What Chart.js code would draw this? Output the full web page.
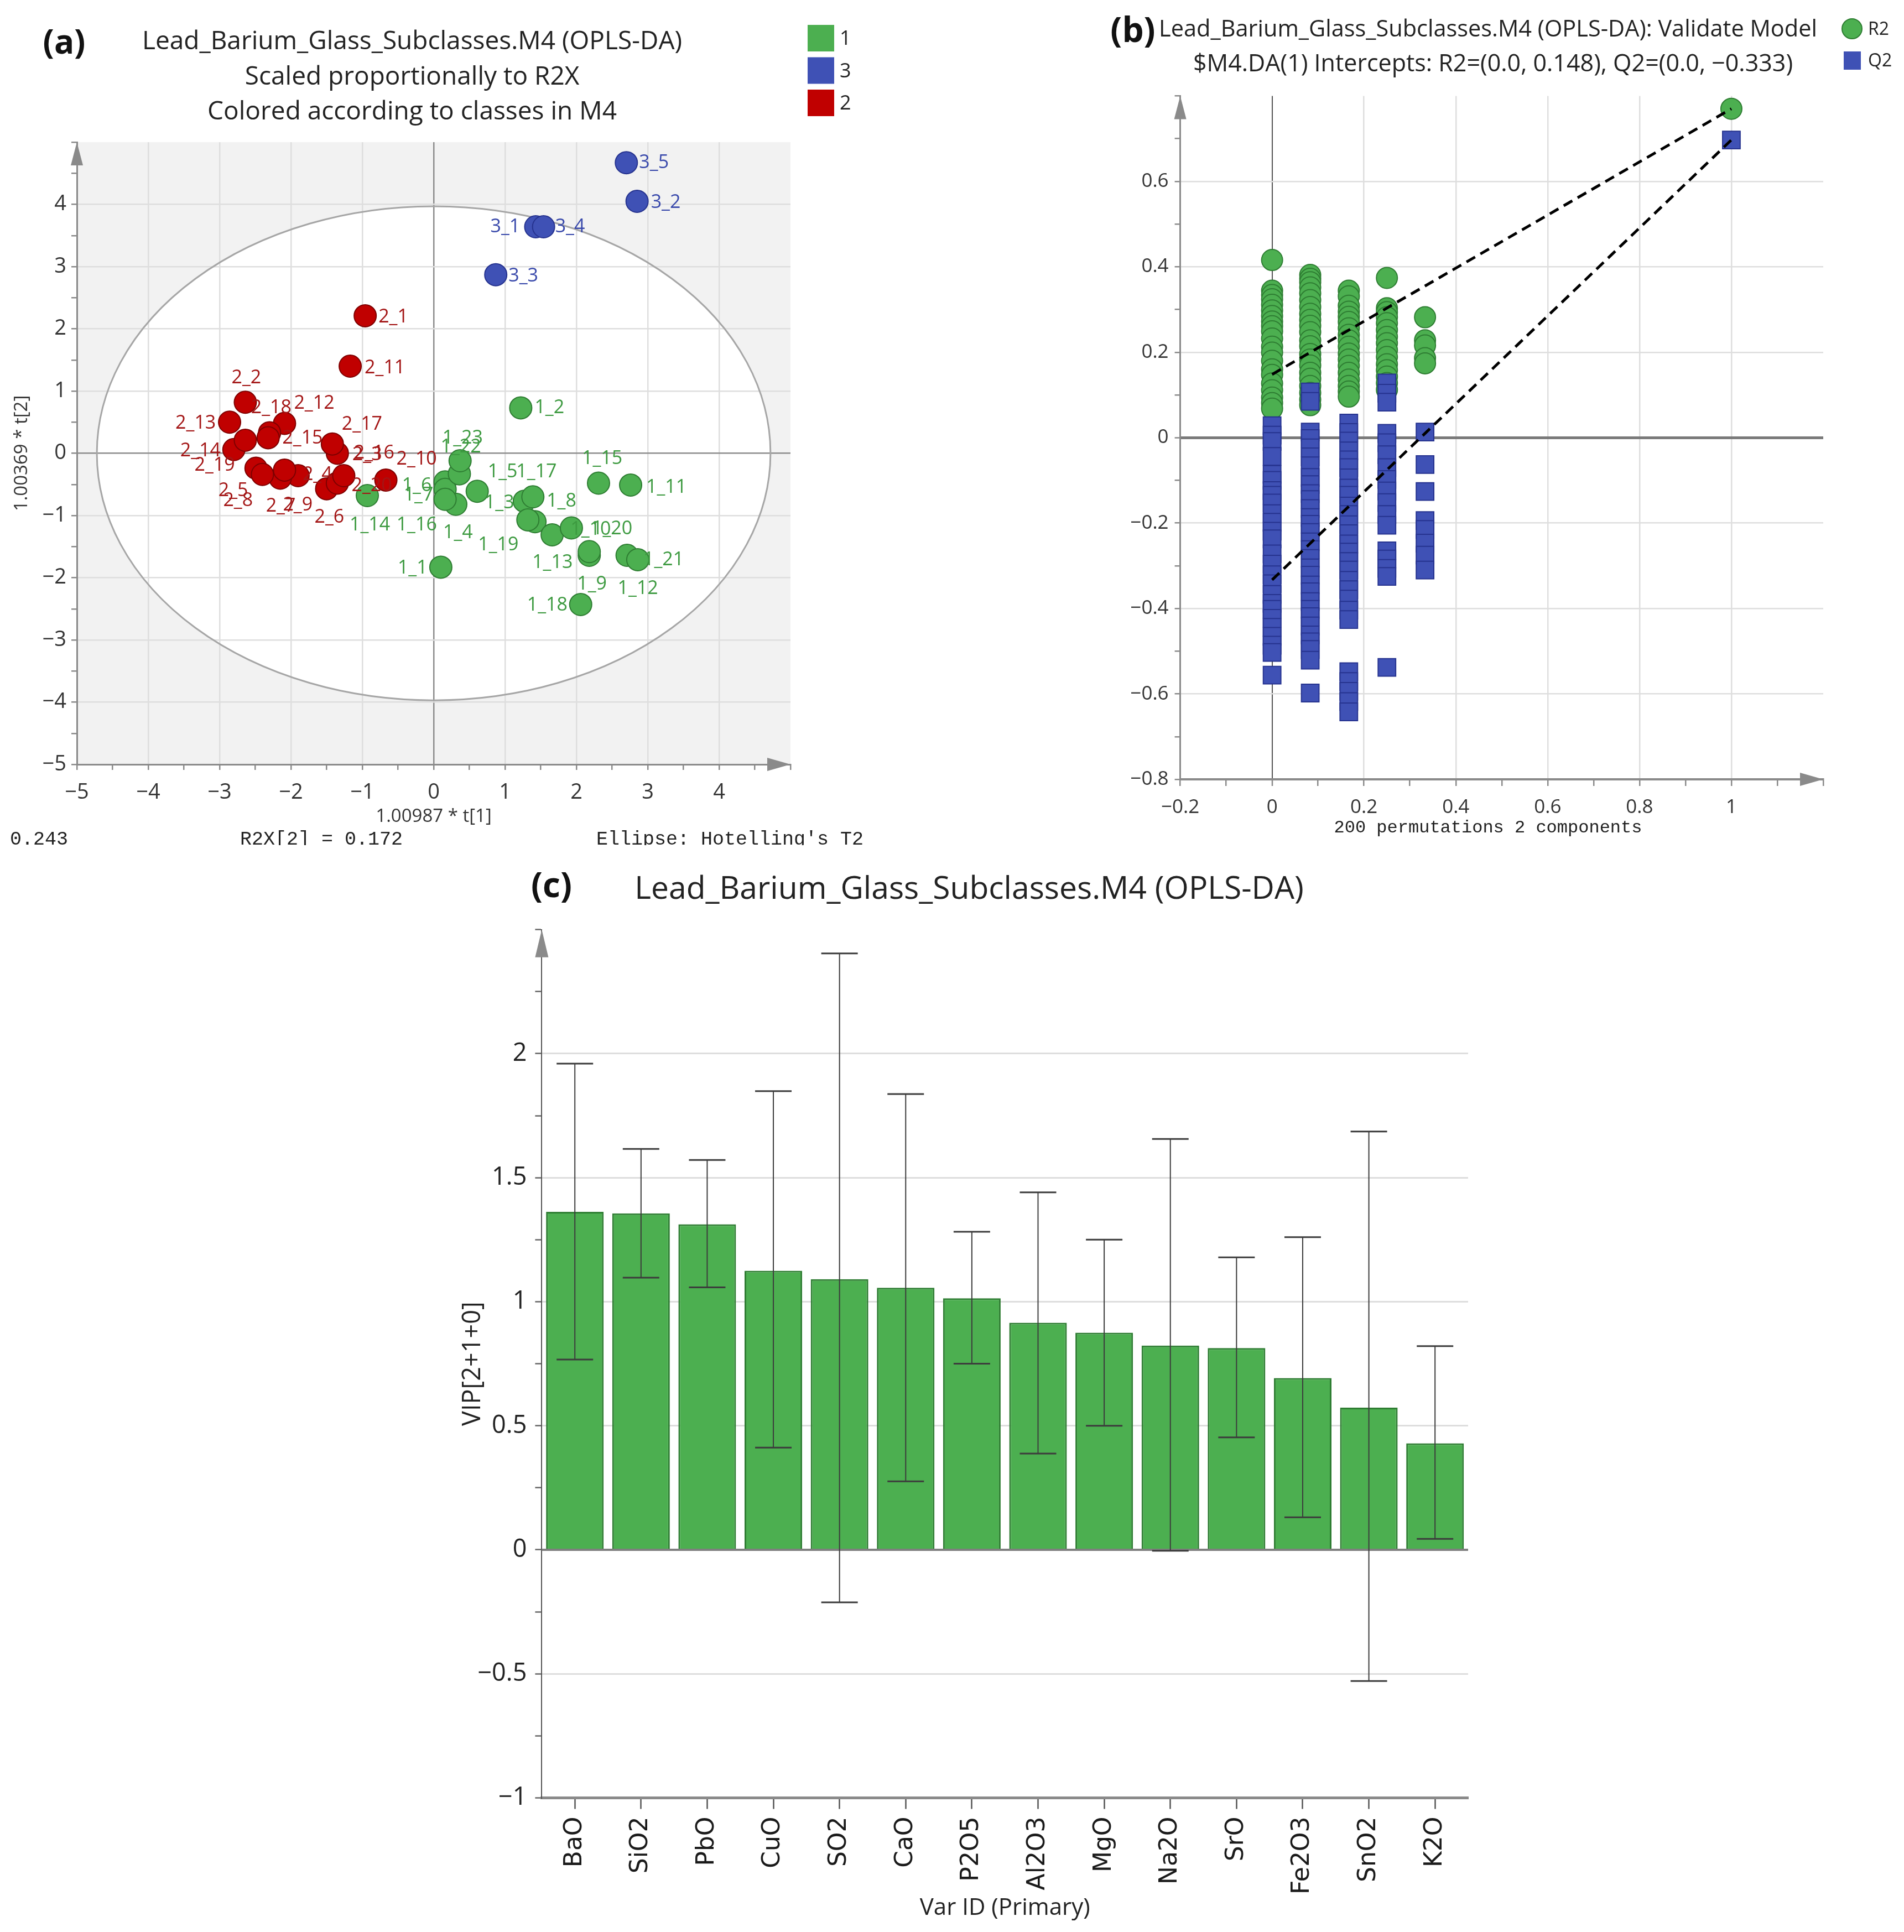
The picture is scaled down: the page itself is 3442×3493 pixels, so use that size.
<!DOCTYPE html>
<html>
<head>
<meta charset="utf-8">
<script src="https://cdn.jsdelivr.net/npm/chart.js@4.4.1/dist/chart.umd.min.js"></script>
<style>
  html, body { margin: 0; padding: 0; background: #fff; }
  #page { position: relative; width: 3442px; height: 3493px; overflow: hidden; background: #fff; }
  canvas { position: absolute; }
</style>
</head>
<body>
<div id="page">
  <canvas id="scoreChart" width="1580" height="1528" style="left:0;top:0"></canvas>
  <canvas id="permChart" width="1452" height="1530" style="left:1990px;top:0"></canvas>
  <canvas id="vipChart" width="1900" height="1953" style="left:780px;top:1540px"></canvas>
</div>
<script>
// ============================
// OPLS-DA figure: score plot, permutation test, VIP bars
// ============================

// ---------- DATA: (a) score plot ----------
const class1Labels = ["1_1", "1_2", "1_3", "1_4", "1_5", "1_6", "1_7", "1_8", "1_9", "1_10", "1_11", "1_12",
  "1_13", "1_14", "1_15", "1_16", "1_17", "1_18", "1_19", "1_20", "1_21", "1_22", "1_23"];
const class1T1 = [0.10, 1.22, 1.27, 0.31, 0.61, 0.16, 0.16, 1.42, 2.18, 2.18, 2.76, 2.71,
  1.66, -0.93, 2.31, 0.16, 1.39, 2.06, 1.32, 1.93, 2.86, 0.36, 0.37];
const class1T2 = [-1.83, 0.73, -0.77, -0.82, -0.61, -0.46, -0.58, -1.10, -1.64, -1.58, -0.51, -1.64,
  -1.31, -0.68, -0.48, -0.74, -0.70, -2.43, -1.07, -1.20, -1.71, -0.33, -0.12];

const class2Labels = ["2_1", "2_2", "2_3", "2_4", "2_5", "2_6", "2_7", "2_8", "2_9", "2_10",
  "2_11", "2_12", "2_13", "2_14", "2_15", "2_16", "2_17", "2_18", "2_19", "2_20"];
const class2T1 = [-0.96, -2.64, -1.35, -1.90, -2.49, -1.50, -2.15, -2.40, -2.09, -0.67,
  -1.17, -2.09, -2.86, -2.80, -2.30, -1.35, -1.42, -2.32, -2.64, -1.26];
const class2T2 = [2.21, 0.82, 0.00, -0.36, -0.24, -0.57, -0.40, -0.34, -0.27, -0.43,
  1.40, 0.48, 0.50, 0.06, 0.33, -0.48, 0.15, 0.25, 0.21, -0.36];

const class3Labels = ["3_1", "3_2", "3_3", "3_4", "3_5"];
const class3T1 = [1.43, 2.85, 0.87, 1.54, 2.70];
const class3T2 = [3.64, 4.05, 2.87, 3.64, 4.67];

const ellipseT1 = 4.72;   // Hotelling's T2 ellipse half-axes
const ellipseT2 = 3.97;

// ---------- DATA: (b) permutation test ----------
const permCorr = [0, 0.083, 0.167, 0.25, 0.333];
const r2Perm0 = [0.416, 0.344, 0.334, 0.324, 0.311, 0.298, 0.285, 0.272, 0.261, 0.249, 0.232, 0.213, 0.199, 0.180, 0.160, 0.147, 0.127, 0.111, 0.094, 0.081, 0.068];
const r2Perm1 = [0.381, 0.372, 0.364, 0.352, 0.338, 0.322, 0.306, 0.290, 0.276, 0.262, 0.247, 0.228, 0.214, 0.196, 0.183, 0.169, 0.152, 0.138, 0.121, 0.105, 0.089, 0.076];
const r2Perm2 = [0.344, 0.331, 0.309, 0.295, 0.283, 0.271, 0.256, 0.241, 0.228, 0.213, 0.197, 0.183, 0.168, 0.152, 0.136, 0.121, 0.108, 0.096];
const r2Perm3 = [0.374, 0.303, 0.294, 0.282, 0.268, 0.252, 0.236, 0.221, 0.205, 0.189, 0.172, 0.158, 0.143, 0.128, 0.112];
const r2Perm4 = [0.282, 0.228, 0.216, 0.186, 0.174];
const q2Perm0 = [0.028, 0.006, -0.009, -0.044, -0.086, -0.100, -0.124, -0.135, -0.153, -0.178, -0.198, -0.219, -0.237, -0.272, -0.296, -0.321, -0.342, -0.367, -0.388, -0.402, -0.423, -0.444, -0.465, -0.486, -0.503, -0.556];
const q2Perm1 = [0.107, 0.085, 0.013, -0.002, -0.024, -0.045, -0.066, -0.093, -0.110, -0.131, -0.145, -0.166, -0.187, -0.203, -0.222, -0.244, -0.262, -0.283, -0.305, -0.322, -0.345, -0.361, -0.384, -0.402, -0.419, -0.441, -0.462, -0.478, -0.496, -0.521, -0.598];
const q2Perm2 = [0.034, 0.012, -0.008, -0.031, -0.052, -0.070, -0.094, -0.118, -0.135, -0.160, -0.180, -0.204, -0.225, -0.249, -0.268, -0.290, -0.310, -0.334, -0.356, -0.378, -0.404, -0.426, -0.548, -0.571, -0.594, -0.618, -0.642];
const q2Perm3 = [0.128, 0.104, 0.083, 0.010, -0.012, -0.040, -0.070, -0.098, -0.125, -0.152, -0.180, -0.205, -0.265, -0.284, -0.306, -0.325, -0.538];
const q2Perm4 = [0.013, -0.063, -0.126, -0.194, -0.215, -0.247, -0.275, -0.310];
const r2Model = 0.770;
const q2Model = 0.697;
const r2Intercept = 0.148;
const q2Intercept = -0.333;

// ---------- DATA: (c) VIP ----------
const vipVars = ["BaO", "SiO2", "PbO", "CuO", "SO2", "CaO", "P2O5", "Al2O3", "MgO", "Na2O", "SrO", "Fe2O3", "SnO2", "K2O"];
const vipValues = [1.362, 1.356, 1.312, 1.125, 1.091, 1.056, 1.014, 0.915, 0.875, 0.823, 0.813, 0.692, 0.573, 0.429];
const vipLow = [0.767, 1.097, 1.058, 0.412, -0.212, 0.276, 0.750, 0.388, 0.500, -0.004, 0.453, 0.131, -0.529, 0.044];
const vipHigh = [1.960, 1.616, 1.571, 1.849, 2.404, 1.837, 1.282, 1.441, 1.250, 1.656, 1.179, 1.260, 1.686, 0.821];

// ---------- STYLE ----------
const SANS = "'Open Sans', 'Noto Sans', sans-serif";
const MONO = "'Liberation Mono', 'DejaVu Sans Mono', monospace";
const GREEN = "#4caf50", GREEN_EDGE = "#2e7d32", GREEN_TEXT = "#3d9a40";
const BLUE = "#3f51b5", BLUE_EDGE = "#26338f", BLUE_TEXT = "#3949ab";
const RED = "#c00000", RED_EDGE = "#7d0000", RED_TEXT = "#a31515";
const AXIS = "#8a8a8a";
const GRID = "#dedede";
const NONE = "rgba(0,0,0,0)";

// label placement in px from point centre: [dx to text start, dy]
const labelOffsets = {
  "1_1": [-78, 2], "1_2": [25, 0], "1_3": [-72, 3], "1_4": [-23, 52], "1_5": [19, -35],
  "1_6": [-78, 7], "1_7": [-75, 11], "1_8": [21, -37], "1_9": [-22, 52], "1_10": [-34, -40],
  "1_11": [28, 4], "1_12": [-17, 60], "1_13": [-36, 50], "1_14": [-32, 53], "1_15": [-30, -44],
  "1_16": [-88, 47], "1_17": [-30, -45], "1_18": [-97, 1], "1_19": [-90, 45], "1_20": [37, 2],
  "1_21": [10, 0], "1_22": [-34, -48], "1_23": [-32, -41],
  "2_1": [24, 2], "2_2": [-25, -44], "2_3": [27, 3], "2_4": [8, -2], "2_5": [-68, 41],
  "2_6": [-22, 52], "2_7": [-26, 51], "2_8": [-71, 48], "2_9": [-3, 63], "2_10": [19, -38],
  "2_11": [26, 3], "2_12": [17, -36], "2_13": [-98, 2], "2_14": [-97, 3], "2_15": [23, 10],
  "2_16": [30, -54], "2_17": [17, -35], "2_18": [-31, -54], "2_19": [-92, 45], "2_20": [14, 18],
  "3_1": [-82, 0], "3_2": [25, 2], "3_3": [23, 3], "3_4": [21, 0], "3_5": [23, 0],
};

// ---------- HELPERS ----------
const fmt = (v) => {
  const r = Math.round(v * 100) / 100;
  return r < 0 ? "\u2212" + Math.abs(r) : String(r);
};
const near = (v, step) => Math.abs(v / step - Math.round(v / step)) < 1e-6;
const points = (xs, ys) => xs.map((x, i) => ({ x, y: ys[i] }));

function text(ctx, str, x, y, font, color, align = "center", baseline = "middle") {
  ctx.save();
  ctx.font = font;
  ctx.fillStyle = color;
  ctx.textAlign = align;
  ctx.textBaseline = baseline;
  ctx.fillText(str, x, y);
  ctx.restore();
}
function arrowUp(ctx, x, tip, len, half) {
  ctx.save();
  ctx.fillStyle = AXIS;
  ctx.beginPath();
  ctx.moveTo(x, tip);
  ctx.lineTo(x - half, tip + len);
  ctx.lineTo(x + half, tip + len);
  ctx.closePath();
  ctx.fill();
  ctx.restore();
}
function arrowRight(ctx, tip, y, len, half) {
  ctx.save();
  ctx.fillStyle = AXIS;
  ctx.beginPath();
  ctx.moveTo(tip, y);
  ctx.lineTo(tip - len, y - half);
  ctx.lineTo(tip - len, y + half);
  ctx.closePath();
  ctx.fill();
  ctx.restore();
}

const base = {
  responsive: false,
  animation: false,
  devicePixelRatio: 1,
  events: [],
};
const noPlugins = { legend: { display: false }, title: { display: false }, tooltip: { enabled: false } };

// ---------- (a) SCORE PLOT ----------
const scoreDatasets = [
  { label: "1", data: points(class1T1, class1T2), names: class1Labels, textColor: GREEN_TEXT,
    backgroundColor: GREEN, borderColor: GREEN_EDGE },
  { label: "3", data: points(class3T1, class3T2), names: class3Labels, textColor: BLUE_TEXT,
    backgroundColor: BLUE, borderColor: BLUE_EDGE },
  { label: "2", data: points(class2T1, class2T2), names: class2Labels, textColor: RED_TEXT,
    backgroundColor: RED, borderColor: RED_EDGE },
].map((d) => Object.assign(d, { pointRadius: 20, borderWidth: 2 }));

const scoreGrid = {
  color: (c) => {
    const v = c.tick.value;
    if (Math.abs(v) > 4.99 || !near(v, 1)) return NONE;
    return Math.abs(v) < 1e-9 ? "#8c8c8c" : GRID;
  },
  lineWidth: 2.5,
  tickColor: AXIS,
  tickLength: 10,
  tickWidth: 2.5,
};
const intTick = (v) => (near(v, 1) && v < 4.9 ? fmt(v) : "");

new Chart(document.getElementById("scoreChart"), {
  type: "scatter",
  data: { datasets: scoreDatasets },
  options: {
    ...base,
    layout: { padding: { top: 257, right: 151, left: 0, bottom: 0 } },
    plugins: noPlugins,
    scales: {
      x: {
        type: "linear", min: -5, max: 5,
        afterFit: (s) => { s.height = 146; },
        ticks: { stepSize: 0.5, autoSkip: false, maxRotation: 0, padding: 18, color: "#333",
          font: { family: SANS, size: 38 }, callback: intTick },
        grid: scoreGrid,
        border: { display: true, color: AXIS, width: 3 },
        title: { display: true, text: "1.00987 * t[1]", color: "#333",
          font: { family: SANS, size: 33 }, padding: { top: 0, bottom: 32 } },
      },
      y: {
        type: "linear", min: -5, max: 5,
        afterFit: (s) => { s.width = 139; },
        ticks: { stepSize: 0.5, autoSkip: false, padding: 9, color: "#333",
          font: { family: SANS, size: 38 }, callback: intTick },
        grid: scoreGrid,
        border: { display: true, color: AXIS, width: 3 },
        title: { display: true, text: "1.00369 * t[2]", color: "#333",
          font: { family: SANS, size: 33 }, padding: { top: 20, bottom: 0 } },
      },
    },
  },
  plugins: [{
    id: "scorePanel",
    beforeDraw(chart) {
      const { ctx, chartArea: a, scales: { x, y } } = chart;
      ctx.save();
      ctx.fillStyle = "#f2f2f2";
      ctx.fillRect(a.left, a.top, a.right - a.left, a.bottom - a.top);
      const cx = x.getPixelForValue(0), cy = y.getPixelForValue(0);
      ctx.beginPath();
      ctx.ellipse(cx, cy, x.getPixelForValue(ellipseT1) - cx, cy - y.getPixelForValue(ellipseT2), 0, 0, Math.PI * 2);
      ctx.fillStyle = "#fff";
      ctx.fill();
      ctx.restore();
    },
    beforeDatasetsDraw(chart) {
      const { ctx, scales: { x, y } } = chart;
      const cx = x.getPixelForValue(0), cy = y.getPixelForValue(0);
      ctx.save();
      ctx.beginPath();
      ctx.ellipse(cx, cy, x.getPixelForValue(ellipseT1) - cx, cy - y.getPixelForValue(ellipseT2), 0, 0, Math.PI * 2);
      ctx.strokeStyle = "#a6a6a6";
      ctx.lineWidth = 3;
      ctx.stroke();
      ctx.restore();
    },
    afterDatasetsDraw(chart) {
      const { ctx } = chart;
      chart.data.datasets.forEach((ds, i) => {
        chart.getDatasetMeta(i).data.forEach((pt, j) => {
          const name = ds.names[j];
          const [dx, dy] = labelOffsets[name] || [24, 2];
          text(ctx, name, pt.x + dx, pt.y + dy, `34px ${SANS}`, ds.textColor, "left");
        });
      });
    },
    afterDraw(chart) {
      const { ctx, chartArea: a } = chart;
      arrowUp(ctx, a.left, a.top, 42, 11);
      arrowRight(ctx, a.right, a.bottom, 42, 12);
      text(ctx, "(a)", 116, 80, `bold 60px ${SANS}`, "#111");
      text(ctx, "Lead_Barium_Glass_Subclasses.M4 (OPLS-DA)", 745, 76, `46px ${SANS}`, "#222");
      text(ctx, "Scaled proportionally to R2X", 745, 140, `46px ${SANS}`, "#222");
      text(ctx, "Colored according to classes in M4", 745, 203, `46px ${SANS}`, "#222");
      chart.data.datasets.forEach((ds, i) => {
        const cy = 69 + i * 58.5;
        ctx.fillStyle = ds.backgroundColor;
        ctx.fillRect(1460, cy - 24, 48, 48);
        text(ctx, ds.label, 1518, cy + 2, `36px ${SANS}`, "#222", "left");
      });
      const mono = `35px ${MONO}`;
      text(ctx, "0.243", 18, 1527, mono, "#222", "left", "alphabetic");
      text(ctx, "R2X[2] = 0.172", 434, 1527, mono, "#222", "left", "alphabetic");
      text(ctx, "Ellipse: Hotelling's T2", 1078, 1527, mono, "#222", "left", "alphabetic");
    },
  }],
});

// ---------- (b) PERMUTATION PLOT ----------
const r2Perm = [r2Perm0, r2Perm1, r2Perm2, r2Perm3, r2Perm4];
const q2Perm = [q2Perm0, q2Perm1, q2Perm2, q2Perm3, q2Perm4];
const flatten = (cols) => cols.flatMap((col, i) => col.map((v) => ({ x: permCorr[i], y: v })));

const circleStyle = { pointStyle: "circle", pointRadius: 19, backgroundColor: GREEN, borderColor: GREEN_EDGE, borderWidth: 2 };
const squareStyle = { pointStyle: "rect", pointRadius: 22.5, backgroundColor: BLUE, borderColor: BLUE_EDGE, borderWidth: 2 };
const dashStyle = { showLine: true, pointRadius: 0, borderColor: "#000", borderWidth: 5, borderDash: [18, 11] };

const permTickX = (v) => (near(v, 0.2) && v < 1.1 ? fmt(v) : "");
const permTickY = (v) => (near(v, 0.2) && v < 0.7 ? fmt(v) : "");

new Chart(document.getElementById("permChart"), {
  type: "scatter",
  data: {
    datasets: [
      { label: "R2 line", data: [{ x: 0, y: r2Intercept }, { x: 1, y: r2Model }], order: 0, ...dashStyle },
      { label: "Q2 line", data: [{ x: 0, y: q2Intercept }, { x: 1, y: q2Model }], order: 0, ...dashStyle },
      { label: "Q2 model", data: [{ x: 1, y: q2Model }], order: 1, ...squareStyle },
      { label: "R2 model", data: [{ x: 1, y: r2Model }], order: 1, ...circleStyle },
      { label: "Q2", data: flatten(q2Perm), order: 2, ...squareStyle },
      { label: "R2", data: flatten(r2Perm), order: 3, ...circleStyle },
    ],
  },
  options: {
    ...base,
    layout: { padding: { top: 173.5, right: 146, left: 0, bottom: 0 } },
    plugins: noPlugins,
    scales: {
      x: {
        type: "linear", min: -0.2, max: 1.2,
        afterFit: (s) => { s.height = 121; },
        ticks: { stepSize: 0.1, autoSkip: false, maxRotation: 0, padding: 18, color: "#333",
          font: { family: SANS, size: 35 }, callback: permTickX },
        grid: {
          color: (c) => {
            const v = c.tick.value;
            if (Math.abs(v) < 1e-9) return "#555";
            if (v < -0.19 || v > 1.19 || !near(v, 0.2)) return NONE;
            return GRID;
          },
          lineWidth: (c) => (Math.abs(c.tick.value) < 1e-9 ? 2 : 2.5),
          tickColor: AXIS, tickLength: 12, tickWidth: 2.5,
        },
        border: { display: true, color: AXIS, width: 4 },
      },
      y: {
        type: "linear", min: -0.8, max: 0.8,
        afterFit: (s) => { s.width = 143.6; },
        ticks: { stepSize: 0.1, autoSkip: false, padding: 11, color: "#333",
          font: { family: SANS, size: 35 }, callback: permTickY },
        grid: {
          color: (c) => {
            const v = c.tick.value;
            if (Math.abs(v) < 1e-9) return "#7a7a7a";
            if (Math.abs(v) > 0.79 || !near(v, 0.2)) return NONE;
            return GRID;
          },
          lineWidth: (c) => (Math.abs(c.tick.value) < 1e-9 ? 5 : 2.5),
          tickColor: AXIS, tickLength: 10, tickWidth: 2.5,
        },
        border: { display: true, color: AXIS, width: 3 },
      },
    },
  },
  plugins: [{
    id: "permPanel",
    afterDraw(chart) {
      const { ctx, chartArea: a } = chart;
      arrowUp(ctx, a.left, a.top, 42, 11);
      arrowRight(ctx, a.right, a.bottom, 42, 12);
      text(ctx, "200 permutations 2 components", 700, 1497, `32px ${MONO}`, "#222");
      text(ctx, "(b)", 58, 58, `bold 62px ${SANS}`, "#111");
      text(ctx, "Lead_Barium_Glass_Subclasses.M4 (OPLS-DA): Validate Model", 700, 54, `41.5px ${SANS}`, "#222");
      text(ctx, "$M4.DA(1) Intercepts: R2=(0.0, 0.148), Q2=(0.0, \u22120.333)", 709, 117, `43px ${SANS}`, "#222");
      // legend
      ctx.save();
      ctx.beginPath();
      ctx.arc(1358, 52, 18, 0, Math.PI * 2);
      ctx.fillStyle = GREEN; ctx.fill();
      ctx.lineWidth = 2; ctx.strokeStyle = GREEN_EDGE; ctx.stroke();
      ctx.fillStyle = BLUE;
      ctx.fillRect(1343, 93, 31, 33);
      ctx.restore();
      text(ctx, "R2", 1387, 54, `32px ${SANS}`, "#222", "left");
      text(ctx, "Q2", 1387, 111, `32px ${SANS}`, "#222", "left");
    },
  }],
});

// ---------- (c) VIP BAR CHART ----------
new Chart(document.getElementById("vipChart"), {
  type: "bar",
  data: {
    labels: vipVars,
    datasets: [{
      label: "VIP[2+1+0]",
      data: vipValues,
      backgroundColor: GREEN,
      borderColor: GREEN_EDGE,
      borderWidth: 3,
      barPercentage: 0.87,
      categoryPercentage: 1.0,
    }],
  },
  options: {
    ...base,
    layout: { padding: { top: 140.7, right: 26, left: 0, bottom: 0 } },
    plugins: noPlugins,
    scales: {
      x: {
        type: "category", offset: true,
        afterFit: (s) => { s.height = 242.5; },
        ticks: { autoSkip: false, minRotation: 90, maxRotation: 90, padding: 14, color: "#1a1a1a",
          font: { family: "'DejaVu Sans', sans-serif", size: 44 } },
        grid: { offset: false, drawOnChartArea: false, tickLength: 20, tickColor: "#555", tickWidth: 2.5 },
        border: { display: true, color: AXIS, width: 5 },
        title: { display: true, text: "Var ID (Primary)", color: "#222",
          font: { family: SANS, size: 42 }, padding: { top: 0, bottom: 18 } },
      },
      y: {
        type: "linear", min: -1, max: 2.5,
        afterFit: (s) => { s.width = 199.4; },
        ticks: { stepSize: 0.25, autoSkip: false, padding: 15, color: "#222",
          font: { family: SANS, size: 45 }, callback: (v) => (near(v, 0.5) && v < 2.4 ? fmt(v) : "") },
        grid: {
          color: (c) => {
            const v = c.tick.value;
            if (v < -0.99 || v > 2.49 || !near(v, 0.5)) return NONE;
            return Math.abs(v) < 1e-9 ? "#7f7f7f" : GRID;
          },
          lineWidth: 3,
          tickColor: "#666", tickLength: 12, tickWidth: 2.5,
        },
        border: { display: true, color: "#555", width: 2 },
        title: { display: true, text: "VIP[2+1+0]", color: "#222",
          font: { family: SANS, size: 45 }, padding: { top: 48, bottom: 0 } },
      },
    },
  },
  plugins: [{
    id: "vipPanel",
    afterDatasetsDraw(chart) {
      const { ctx, chartArea: a, scales: { y } } = chart;
      const y0 = y.getPixelForValue(0);
      ctx.save();
      ctx.strokeStyle = "#7f7f7f";
      ctx.lineWidth = 4;
      ctx.beginPath();
      ctx.moveTo(a.left, y0);
      ctx.lineTo(a.right, y0);
      ctx.stroke();
      // confidence intervals
      ctx.strokeStyle = "#3c3c3c";
      chart.getDatasetMeta(0).data.forEach((bar, i) => {
        const top = y.getPixelForValue(vipHigh[i]);
        const bot = y.getPixelForValue(vipLow[i]);
        ctx.lineWidth = 2;
        ctx.beginPath();
        ctx.moveTo(bar.x, top);
        ctx.lineTo(bar.x, bot);
        ctx.stroke();
        ctx.lineWidth = 3;
        ctx.beginPath();
        ctx.moveTo(bar.x - 33, top); ctx.lineTo(bar.x + 33, top);
        ctx.moveTo(bar.x - 33, bot); ctx.lineTo(bar.x + 33, bot);
        ctx.stroke();
      });
      ctx.restore();
    },
    afterDraw(chart) {
      const { ctx, chartArea: a } = chart;
      arrowUp(ctx, a.left, a.top, 50, 12);
      text(ctx, "(c)", 217, 64, `bold 62px ${SANS}`, "#111");
      text(ctx, "Lead_Barium_Glass_Subclasses.M4 (OPLS-DA)", 972, 69, `57px ${SANS}`, "#222");
    },
  }],
});
</script>
</body>
</html>
